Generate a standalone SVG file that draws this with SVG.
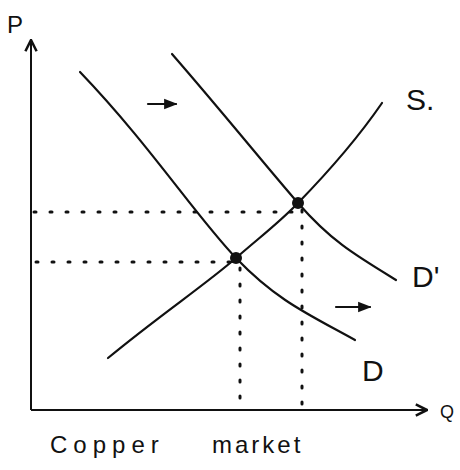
<svg xmlns="http://www.w3.org/2000/svg" width="460" height="470" viewBox="0 0 460 470">
<style>
.ax{fill:none;stroke:#111;stroke-width:2}
.crv{fill:none;stroke:#111;stroke-width:2.2;stroke-linecap:round}
.dot{fill:none;stroke:#111;stroke-width:3;stroke-dasharray:2 14;stroke-linecap:round}
.lbl{font-family:"Liberation Sans",Arial,sans-serif;fill:#111}
</style>
<defs>
<marker id="ah" viewBox="0 0 10 10" refX="9" refY="5" markerWidth="7" markerHeight="7" orient="auto"><path d="M1,1 L9,5 L1,9" fill="none" stroke="#111" stroke-width="1.8"/></marker>
<marker id="af" viewBox="0 0 10 10" refX="9" refY="5" markerWidth="6" markerHeight="6" orient="auto"><path d="M0,1 L10,5 L0,9 Z" fill="#111"/></marker>
</defs>
<rect width="460" height="470" fill="#fff"/>
<g id="axes">
<path class="ax" d="M31,410 L31,40" marker-end="url(#ah)"/>
<path class="ax" d="M31,410 L427,410" marker-end="url(#ah)"/>
<text class="lbl" x="7" y="33" font-size="24">P</text>
<text class="lbl" x="440" y="418" font-size="18">Q</text>
</g>
<g id="connectors">
<path class="dot" d="M34,212 L296,212"/>
<path class="dot" d="M36,262 L236,262"/>
<path class="dot" d="M240,268 L240,408"/>
<path class="dot" d="M302,210 L302,408"/>
<path class="crv" d="M148,104 L176,104" marker-end="url(#af)"/>
<path class="crv" d="M336,307 L370,307" marker-end="url(#af)"/>
</g>
<g id="D">
<path class="crv" d="M80,72 C150,145 195,215 236,258 S310,315 355,340"/>
<text class="lbl" x="362" y="381" font-size="30">D</text>
</g>
<g id="Dprime">
<path class="crv" d="M172,54 C225,115 265,165 298,203 S355,255 396,280"/>
<text class="lbl" x="412" y="287" font-size="30">D'</text>
</g>
<g id="S">
<path class="crv" d="M108,358 C160,315 205,285 236,258 C260,237 280,222 298,203 C335,165 360,135 382,103"/>
<text class="lbl" x="406" y="110" font-size="30">S.</text>
</g>
<g id="points">
<circle cx="236" cy="258" r="6" fill="#111"/>
<circle cx="298" cy="203" r="6" fill="#111"/>
</g>
<text class="lbl" x="50" y="453" font-size="24" letter-spacing="6">Copper</text>
<text class="lbl" x="212" y="453" font-size="24" letter-spacing="3">market</text>
</svg>
